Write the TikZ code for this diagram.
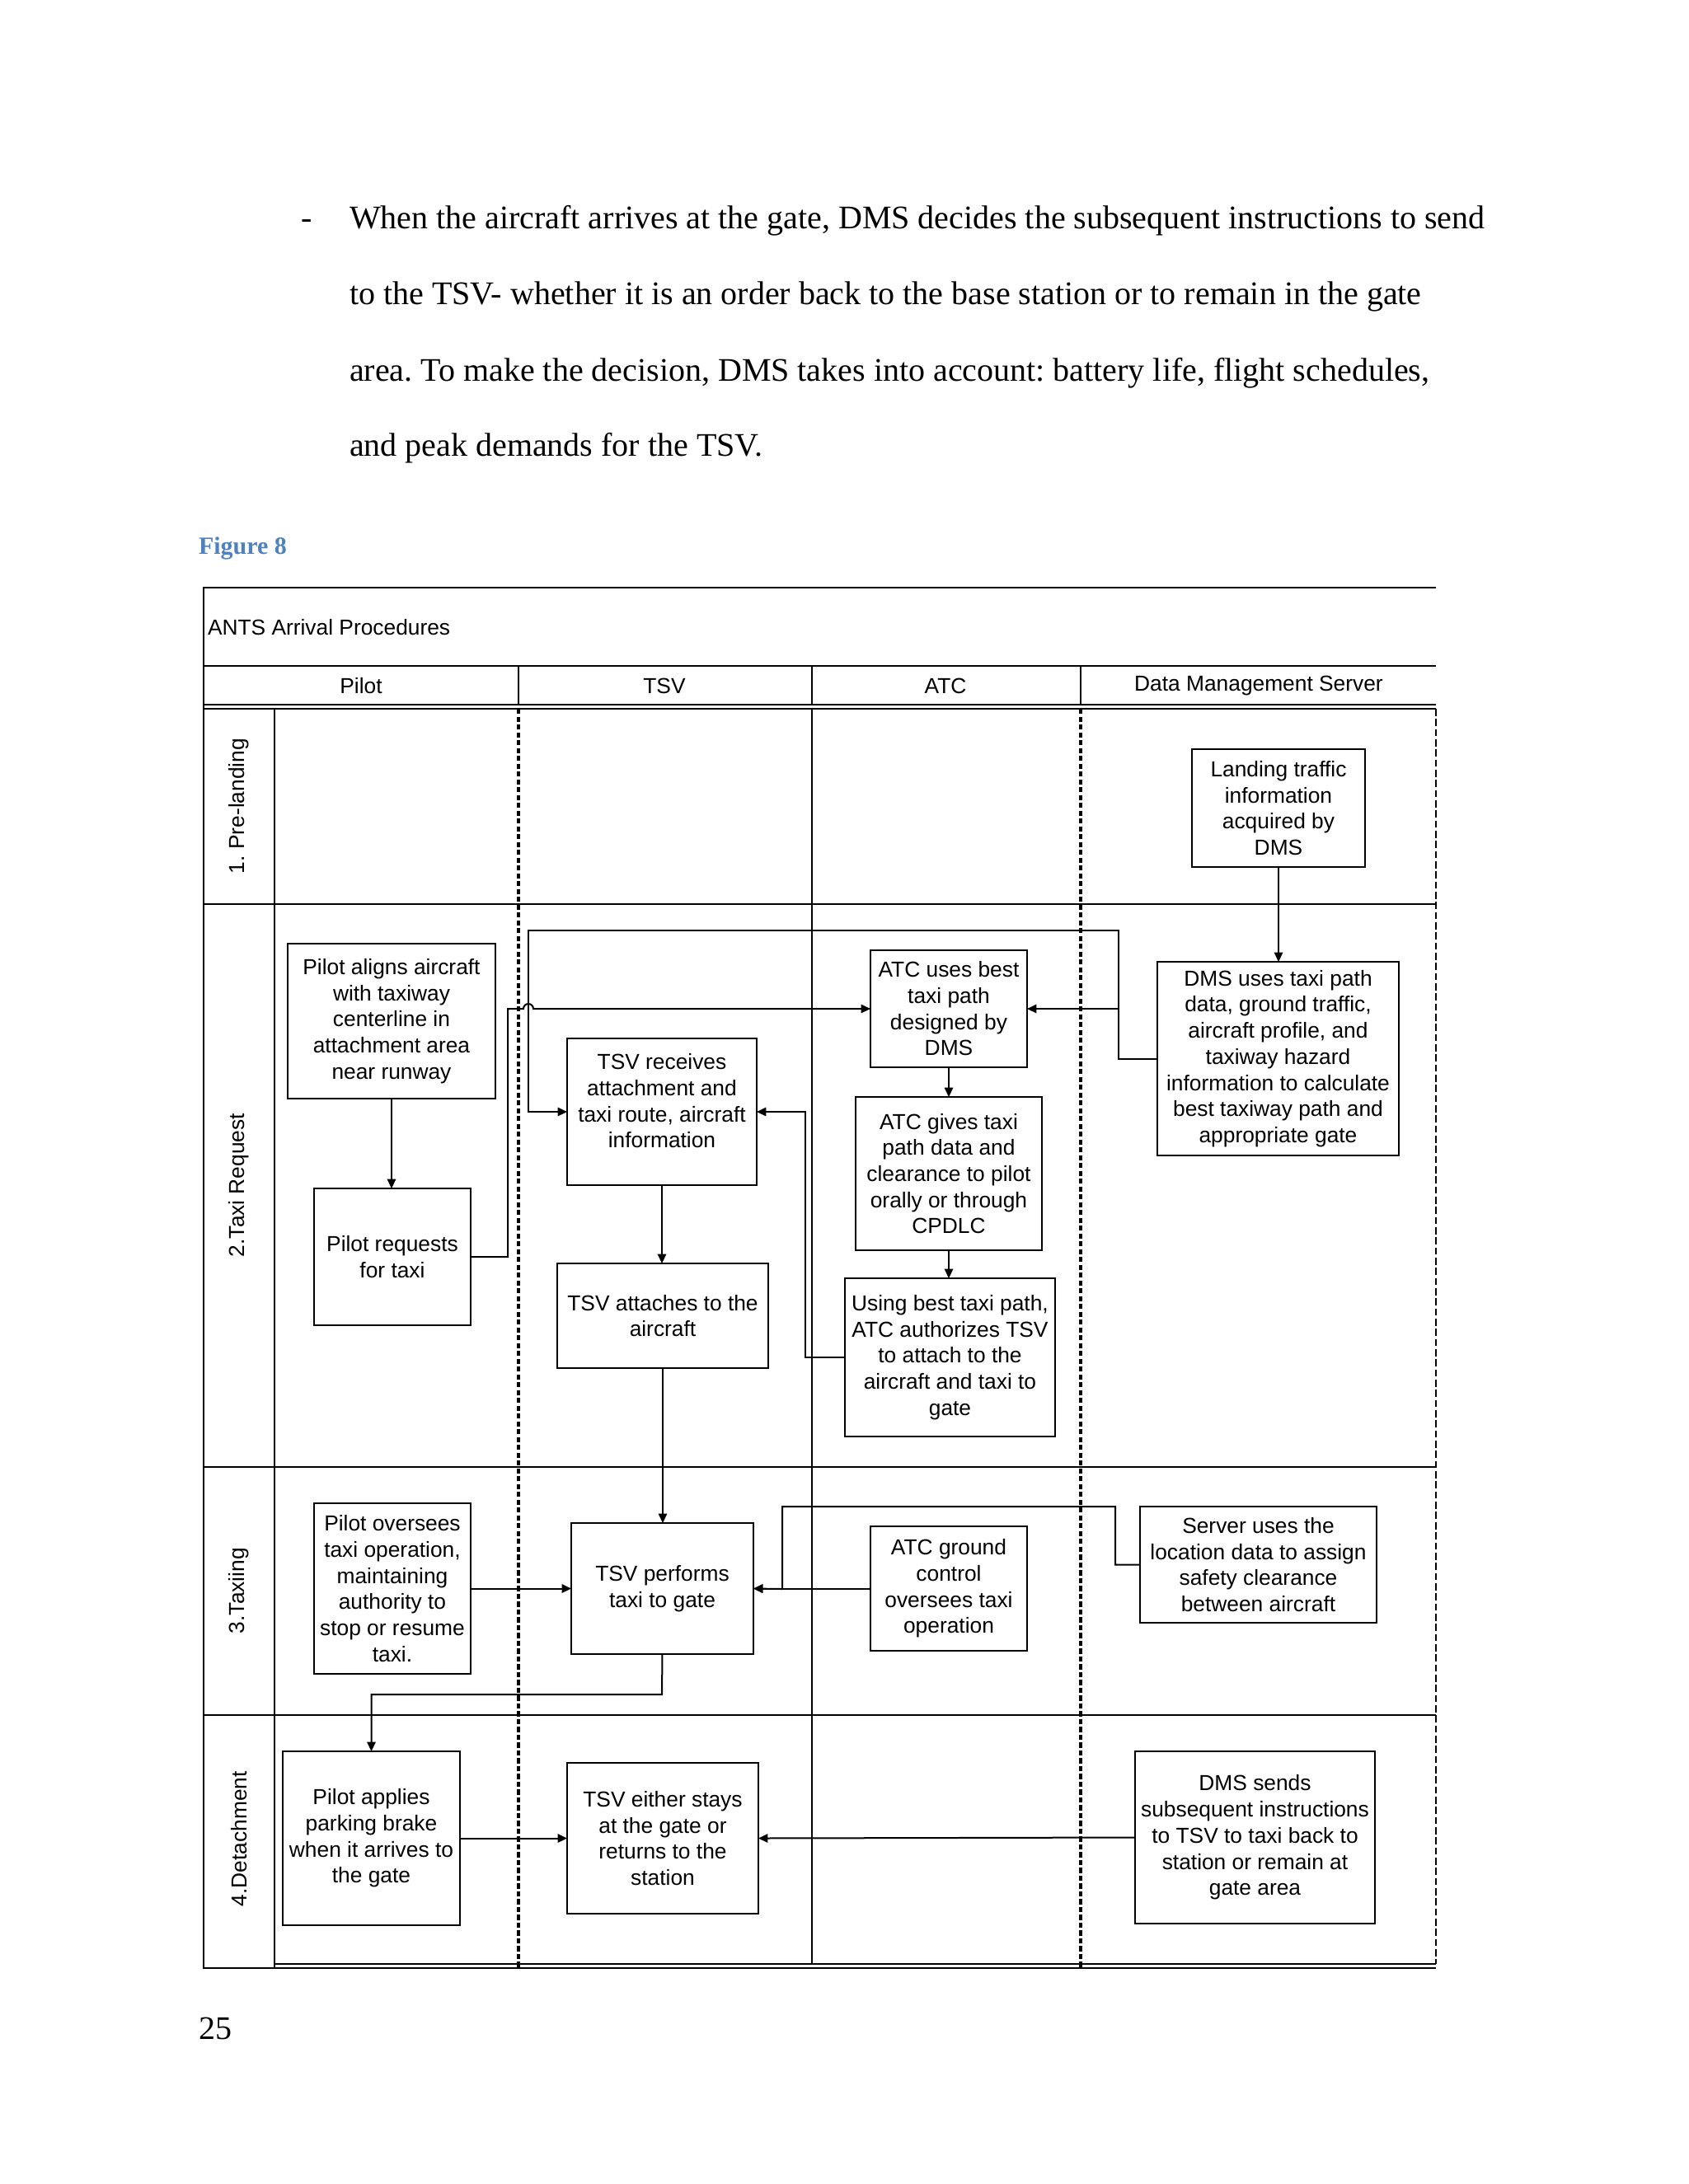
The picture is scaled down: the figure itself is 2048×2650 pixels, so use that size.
\documentclass[tikz,border=0pt]{standalone}
\usepackage{fontspec}
\setmainfont{Liberation Serif}
\newfontfamily\arial{Liberation Sans}
\usetikzlibrary{arrows.meta}
\definecolor{capblue}{HTML}{4F81BD}
\frenchspacing
\newcommand\bx[6]{\node[box, minimum width={(#4-#2)*0.29997pt}, minimum height={(#5-#3)*0.29997pt}] (#1) at ({(#2+#4)/2},{(#3+#5)/2}) {#6};}
\begin{document}
\begin{tikzpicture}[x=0.29885bp,y=-0.29885bp,
  every node/.style={inner sep=0pt, outer sep=0pt},
  box/.style={draw, line width=0.6pt, align=center, font=\arial\fontsize{7.9}{9.5}\selectfont},
  txt/.style={align=center, font=\arial\fontsize{7.9}{9.5}\selectfont},
  conn/.style={line width=0.6pt, -{Triangle[length=3.4pt,width=3.1pt]}},
  frame/.style={line width=0.75pt},
  grid/.style={line width=0.6pt},
  heavydash/.style={line width=1.2pt, dash pattern=on 1.9pt off 0.95pt},
  thindash/.style={line width=0.45pt, dash pattern=on 2.6pt off 1.1pt},
  body/.style={font=\fontsize{12}{14}\selectfont, anchor=base west},
  capt/.style={font=\bfseries\fontsize{9}{11}\selectfont, text=capblue, anchor=base west},
]
\useasboundingbox (0,0) rectangle (2048,2650);

% ---- page text ----
\node[body] (dash) at (365,277) {-};
\node[body] (l1) at (424,277) {When the aircraft arrives at the gate, DMS decides the subsequent instructions to send};
\node[body] (l2) at (424,369) {to the TSV- whether it is an order back to the base station or to remain in the gate};
\node[body] (l3) at (424,462) {area. To make the decision, DMS takes into account: battery life, flight schedules,};
\node[body] (l4) at (424,553) {and peak demands for the TSV.};
\node[capt] (fig) at (241,672) {Figure 8};
\node[body] (pg) at (241,2474) {25};

% ---- frame and grid ----
\draw[frame] (1742,713) -- (247,713) -- (247,2388) -- (1742,2388);
\draw[frame] (247,808) -- (1742,808);
\draw[grid] (629,808) -- (629,855);
\draw[grid] (985,808) -- (985,855);
\draw[grid] (1311,808) -- (1311,855);
\draw[grid] (247,855) -- (1742,855);
\draw[grid] (247,860) -- (1742,860);
\draw[grid] (333,860) -- (333,2388);
\draw[grid] (247,1097) -- (1742,1097);
\draw[grid] (247,1780) -- (1742,1780);
\draw[grid] (247,2081) -- (1742,2081);
\draw[grid] (333,2383) -- (1742,2383);
\draw[heavydash] (629,860) -- (629,2388);
\draw[grid] (985,860) -- (985,2383);
\draw[heavydash] (1311,860) -- (1311,2388);
\draw[thindash] (1742,860) -- (1742,2383);

% ---- headers ----
\node[txt, anchor=west] (title) at (252,761) {ANTS Arrival Procedures};
\node[txt] (hPilot) at (438,832) {Pilot};
\node[txt] (hTSV) at (806,832) {TSV};
\node[txt] (hATC) at (1147,832) {ATC};
\node[txt] (hDMS) at (1527,832) {Data Management Server};
\node[txt, rotate=90] (ph1) at (290,978) {1. Pre-landing};
\node[txt, rotate=90] (ph2) at (290,1438) {2.Taxi Request};
\node[txt, rotate=90] (ph3) at (290,1930) {3.Taxiing};
\node[txt, rotate=90] (ph4) at (290,2231) {4.Detachment};

% ---- boxes ----
\bx{n1}{1446}{909}{1656}{1052}{Landing traffic\\information\\acquired by\\DMS}
\bx{n2}{1404}{1167}{1697}{1402}{DMS uses taxi path\\data, ground traffic,\\aircraft profile, and\\taxiway hazard\\information to calculate\\best taxiway path and\\appropriate gate}
\bx{n3}{1056}{1153}{1246}{1295}{ATC uses best\\taxi path\\designed by\\DMS}
\bx{n4}{1038}{1331}{1264}{1517}{ATC gives taxi\\path data and\\clearance to pilot\\orally or through\\CPDLC}
\bx{n5}{1025}{1551}{1280}{1743}{Using best taxi path,\\ATC authorizes TSV\\to attach to the\\aircraft and taxi to\\gate}
\bx{n6}{349}{1145}{601}{1333}{Pilot aligns aircraft\\with taxiway\\centerline in\\attachment area\\near runway}
\bx{n7}{381}{1442}{571}{1608}{Pilot requests\\for taxi}
\bx{n8}{688}{1260}{918}{1438}{}
\node[txt] (n8t) at ([yshift=3.9pt]n8.center) {TSV receives\\attachment and\\taxi route, aircraft\\information};
\bx{n9}{676}{1533}{932}{1660}{TSV attaches to the\\aircraft}
\bx{n11}{693}{1848}{914}{2007}{TSV performs\\taxi to gate}
\bx{n12}{381}{1824}{571}{2031}{Pilot oversees\\taxi operation,\\maintaining\\authority to\\stop or resume\\taxi.}
\bx{n13}{1056}{1852}{1246}{2003}{ATC ground\\control\\oversees taxi\\operation}
\bx{n14}{1383}{1828}{1670}{1969}{Server uses the\\location data to assign\\safety clearance\\between aircraft}
\bx{n16}{343}{2125}{558}{2336}{Pilot applies\\parking brake\\when it arrives to\\the gate}
\bx{n17}{688}{2139}{920}{2322}{TSV either stays\\at the gate or\\returns to the\\station}
\bx{n18}{1377}{2125}{1668}{2334}{DMS sends\\subsequent instructions\\to TSV to taxi back to\\station or remain at\\gate area}

% ---- connectors ----
\draw[conn] (n1.south) -- (n1.south |- n2.north);
\draw[conn] (n3.south) -- (n3.south |- n4.north);
\draw[conn] (n4.south) -- (n4.south |- n5.north);
\draw[conn] (n6.south) -- (n6.south |- n7.north);
\draw[conn] (n8.south) -- (n8.south |- n9.north);
\draw[conn] (n9.south) -- (n9.south |- n11.north);
\draw[conn] (n12.east) -- (n12.east -| n11.west);
\draw[conn] (n13.west) -- (n11.east);
\draw[conn] (n14.west) -| (1353,1828) -| (949,1928) -- (n11.east);
\draw[conn] (n11.south) -- (803,2056) -| (n16.north);
\draw[conn] (n16.east |- n17.west) -- (n17.west);
\draw[conn] (n18.west) -- (n17.east);
\draw[conn] (n7.east) -- (616,1525) -- (616,1224) -- (635,1224)
   arc[start angle=180, end angle=360, radius=6] -- (n3.west);
\draw[conn] (n2.west) -| (1357,1129) -| (641,1349) -- (n8.west);
\coordinate (jA) at (1357,1224);
\draw[conn] (jA) -- (n3.east);
\draw[conn] (n5.west) -| (977,1349) -- (n8.east);
\end{tikzpicture}
\end{document}
